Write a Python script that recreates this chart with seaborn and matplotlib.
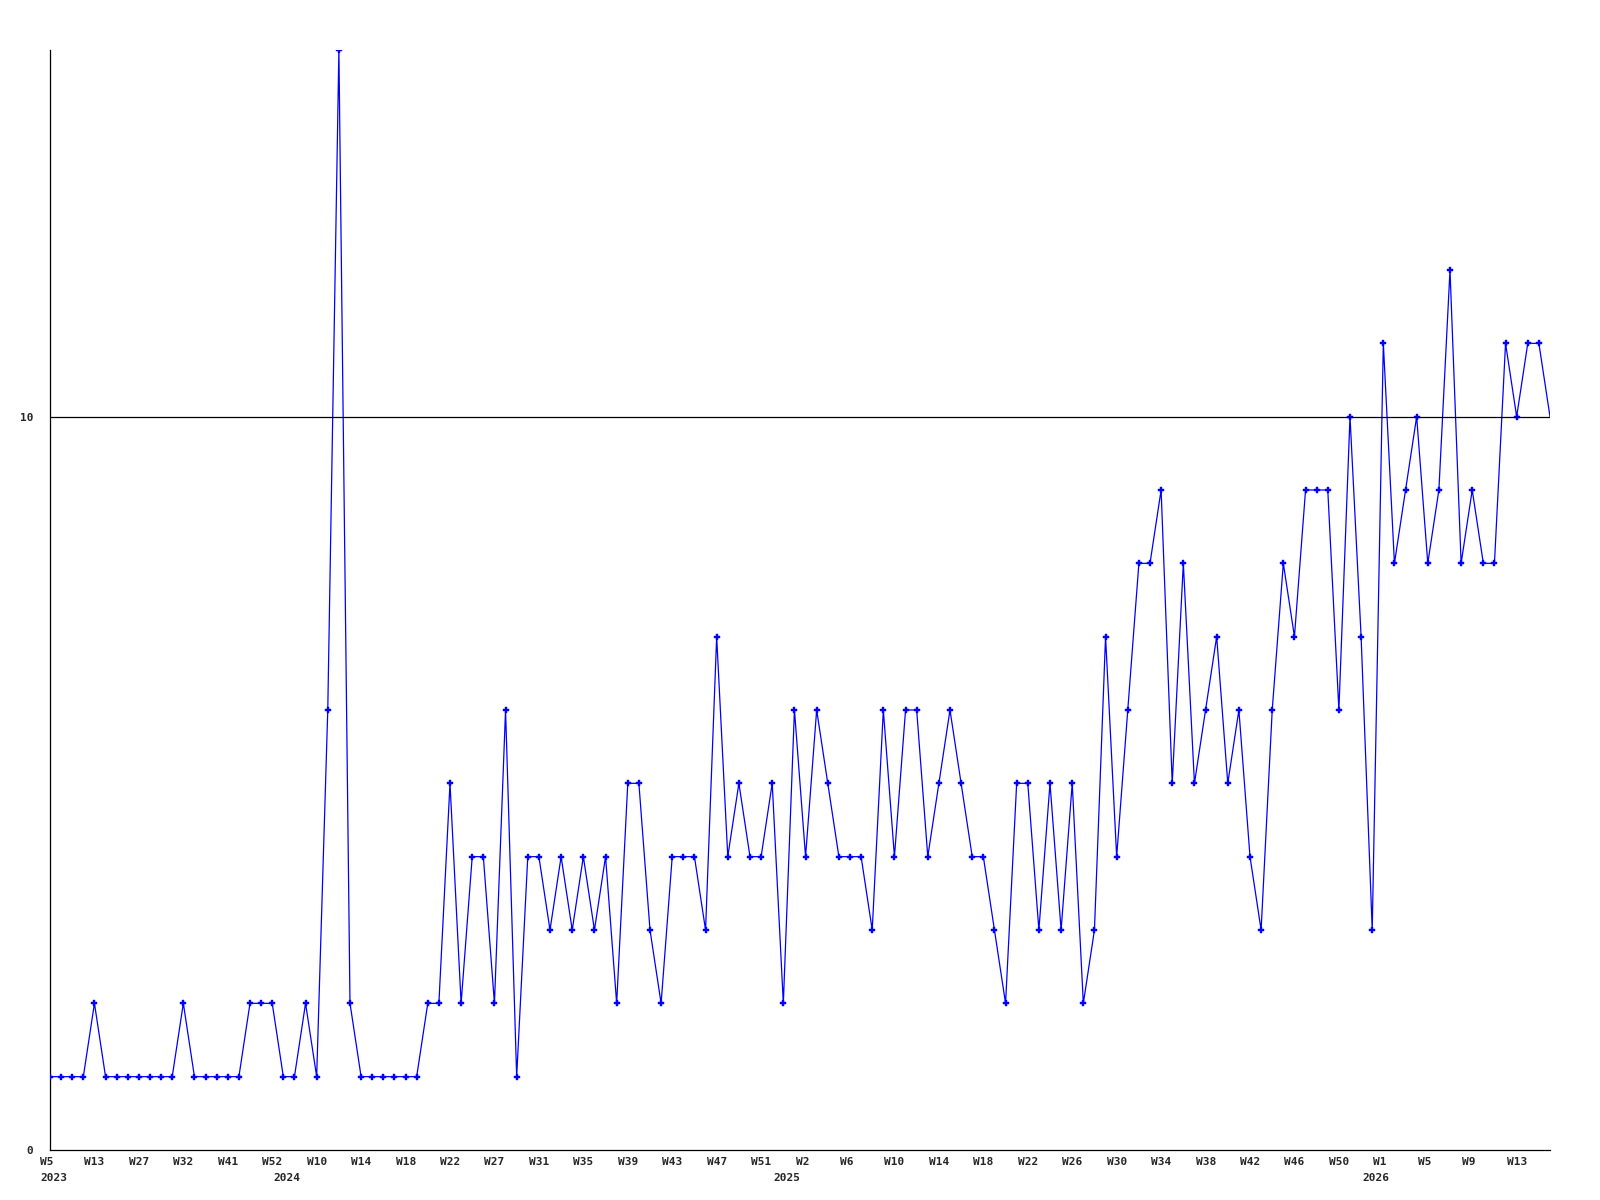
import matplotlib
matplotlib.use("Agg")
import matplotlib.pyplot as plt
import matplotlib.transforms as mtransforms
import seaborn as sns

# weekly counts, one value per point (last point is drawn without a marker)
counts = [1, 1, 1, 1, 2, 1, 1, 1, 1, 1,
          1, 1, 2, 1, 1, 1, 1, 1, 2, 2,
          2, 1, 1, 2, 1, 6, 15, 2, 1, 1,
          1, 1, 1, 1, 2, 2, 5, 2, 4, 4,
          2, 6, 1, 4, 4, 3, 4, 3, 4, 3,
          4, 2, 5, 5, 3, 2, 4, 4, 4, 3,
          7, 4, 5, 4, 4, 5, 2, 6, 4, 6,
          5, 4, 4, 4, 3, 6, 4, 6, 6, 4,
          5, 6, 5, 4, 4, 3, 2, 5, 5, 3,
          5, 3, 5, 2, 3, 7, 4, 6, 8, 8,
          9, 5, 8, 5, 6, 7, 5, 6, 4, 3,
          6, 8, 7, 9, 9, 9, 6, 10, 7, 3,
          11, 8, 9, 10, 8, 9, 12, 8, 9, 8,
          8, 11, 10, 11, 11, 10]

week_labels = ["W5", "W13", "W27", "W32", "W41", "W52", "W10", "W14", "W18",
               "W22", "W27", "W31", "W35", "W39", "W43", "W47", "W51", "W2",
               "W6", "W10", "W14", "W18", "W22", "W26", "W30", "W34", "W38",
               "W42", "W46", "W50", "W1", "W5", "W9", "W13"]
week_pos = list(range(0, 4 * len(week_labels), 4))

year_labels = ["2023", "2024", "2025", "2026"]
year_pos = [0, 21, 66, 119]

y_ticks = [0, 10]

sns.set_style("white")
plt.rcParams["font.family"] = ["DejaVu Sans Mono"]

fig = plt.figure(figsize=(16, 12), dpi=100)
ax = fig.add_axes([50 / 1600, 50 / 1200, 1500 / 1600, 1100 / 1200])

x = list(range(len(counts)))
sns.lineplot(x=x, y=counts, ax=ax, color="#0000ff", linewidth=0.9,
             marker="P", markersize=5, markeredgewidth=0.3,
             markeredgecolor="#0000ff",
             markevery=list(range(len(counts) - 1)), zorder=3)

ax.axhline(10, color="black", linewidth=0.9, zorder=4)

ax.set_xlim(0, len(counts) - 1)
ax.set_ylim(0, max(counts))

for side in ["top", "right"]:
    ax.spines[side].set_visible(False)
for side in ["left", "bottom"]:
    ax.spines[side].set_color("black")
    ax.spines[side].set_linewidth(0.9)

ax.set_yticks(y_ticks)
ax.set_yticklabels([str(v) for v in y_ticks], fontsize=8, fontweight="bold")
ax.tick_params(axis="y", length=0, pad=12)

ax.set_xticks(week_pos)
ax.set_xticklabels(week_labels, fontsize=8, fontweight="bold")
ax.tick_params(axis="x", length=0, pad=5)
shift = mtransforms.ScaledTranslation(-10 / 100, 0, fig.dpi_scale_trans)
for lbl in ax.get_xticklabels():
    lbl.set_horizontalalignment("left")
    lbl.set_transform(lbl.get_transform() + shift)

trans = mtransforms.blended_transform_factory(ax.transData, ax.transAxes)
for pos, yl in zip(year_pos, year_labels):
    ax.text(pos, 0, yl, transform=trans + mtransforms.ScaledTranslation(-10 / 100, -23 / 100, fig.dpi_scale_trans),
            ha="left", va="top", fontsize=8, fontweight="bold")

ax.set_xlabel("")
ax.set_ylabel("")
ax.grid(False)

fig.savefig("out.png", dpi=100)
